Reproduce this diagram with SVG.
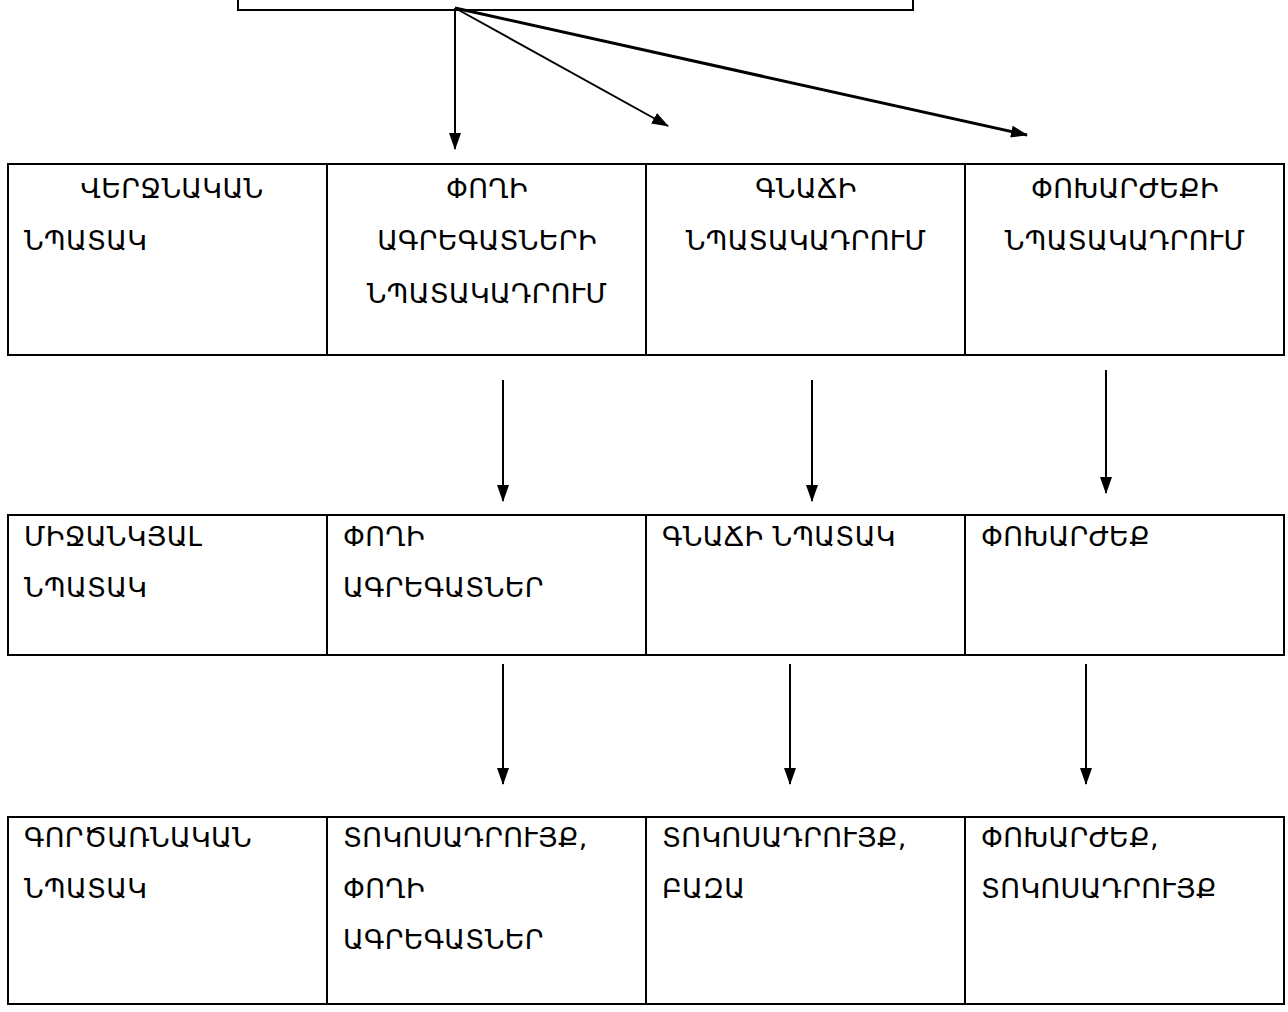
<svg xmlns="http://www.w3.org/2000/svg" width="1288" height="1012" viewBox="0 0 1288 1012">
<style>
.cell{fill:#fff;stroke:#000;stroke-width:2}
.t{font-family:"DejaVu Sans",sans-serif;font-size:27px;fill:#000;letter-spacing:0.3px}
.c{text-anchor:middle}
.ln{stroke:#000;stroke-width:2;fill:none;marker-end:url(#ah)}
</style>
<defs>
<marker id="ah" markerUnits="userSpaceOnUse" markerWidth="18" markerHeight="12" refX="16" refY="6" orient="auto"><path d="M0,0 L17,6 L0,12 z" fill="#000"/></marker>
</defs>
<g id="top"><rect class="cell" x="238" y="-10" width="675" height="20"/></g>
<g id="connectors">
<line class="ln" x1="455" y1="8" x2="455" y2="149"/>
<line class="ln" x1="455" y1="8" x2="668" y2="126"/>
<line class="ln" x1="455" y1="8" x2="1027" y2="135" style="stroke-width:3"/>
<line class="ln" x1="503" y1="380" x2="503" y2="501"/>
<line class="ln" x1="812" y1="380" x2="812" y2="501"/>
<line class="ln" x1="1106" y1="370" x2="1106" y2="493"/>
<line class="ln" x1="503" y1="664" x2="503" y2="784"/>
<line class="ln" x1="790" y1="664" x2="790" y2="784"/>
<line class="ln" x1="1086" y1="664" x2="1086" y2="784"/>
</g>
<g id="r1c1"><rect class="cell" x="8" y="164" width="319" height="191"/><text class="t c" x="172" y="198">ՎԵՐՋՆԱԿԱՆ</text><text class="t" x="24" y="250">ՆՊԱՏԱԿ</text></g>
<g id="r1c2"><rect class="cell" x="327" y="164" width="319" height="191"/><text class="t c" x="487" y="198">ՓՈՂԻ</text><text class="t c" x="487" y="250">ԱԳՐԵԳԱՏՆԵՐԻ</text><text class="t c" x="487" y="303">ՆՊԱՏԱԿԱԴՐՈՒՄ</text></g>
<g id="r1c3"><rect class="cell" x="646" y="164" width="319" height="191"/><text class="t c" x="806" y="198">ԳՆԱՃԻ</text><text class="t c" x="806" y="250">ՆՊԱՏԱԿԱԴՐՈՒՄ</text></g>
<g id="r1c4"><rect class="cell" x="965" y="164" width="319" height="191"/><text class="t c" x="1125" y="198">ՓՈԽԱՐԺԵՔԻ</text><text class="t c" x="1125" y="250">ՆՊԱՏԱԿԱԴՐՈՒՄ</text></g>
<g id="r2c1"><rect class="cell" x="8" y="515" width="319" height="140"/><text class="t" x="24" y="546">ՄԻՋԱՆԿՅԱԼ</text><text class="t" x="24" y="597">ՆՊԱՏԱԿ</text></g>
<g id="r2c2"><rect class="cell" x="327" y="515" width="319" height="140"/><text class="t" x="343" y="546">ՓՈՂԻ</text><text class="t" x="343" y="597">ԱԳՐԵԳԱՏՆԵՐ</text></g>
<g id="r2c3"><rect class="cell" x="646" y="515" width="319" height="140"/><text class="t" x="662" y="546">ԳՆԱՃԻ ՆՊԱՏԱԿ</text></g>
<g id="r2c4"><rect class="cell" x="965" y="515" width="319" height="140"/><text class="t" x="981" y="546">ՓՈԽԱՐԺԵՔ</text></g>
<g id="r3c1"><rect class="cell" x="8" y="817" width="319" height="187"/><text class="t" x="24" y="847">ԳՈՐԾԱՌՆԱԿԱՆ</text><text class="t" x="24" y="898">ՆՊԱՏԱԿ</text></g>
<g id="r3c2"><rect class="cell" x="327" y="817" width="319" height="187"/><text class="t" x="343" y="847">ՏՈԿՈՍԱԴՐՈՒՅՔ,</text><text class="t" x="343" y="898">ՓՈՂԻ</text><text class="t" x="343" y="949">ԱԳՐԵԳԱՏՆԵՐ</text></g>
<g id="r3c3"><rect class="cell" x="646" y="817" width="319" height="187"/><text class="t" x="662" y="847">ՏՈԿՈՍԱԴՐՈՒՅՔ,</text><text class="t" x="662" y="898">ԲԱԶԱ</text></g>
<g id="r3c4"><rect class="cell" x="965" y="817" width="319" height="187"/><text class="t" x="981" y="847">ՓՈԽԱՐԺԵՔ,</text><text class="t" x="981" y="898">ՏՈԿՈՍԱԴՐՈՒՅՔ</text></g>
</svg>
